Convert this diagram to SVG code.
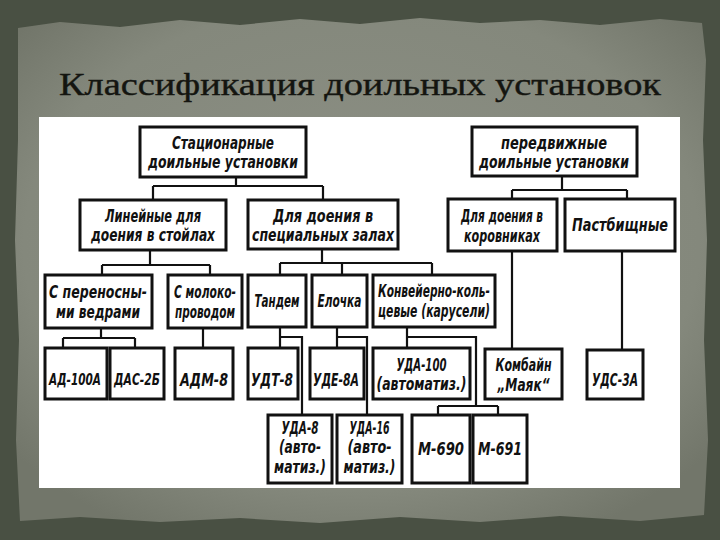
<svg xmlns="http://www.w3.org/2000/svg" width="720" height="540" viewBox="0 0 720 540">
<defs>
<radialGradient id="paper" cx="50%" cy="45%" r="65%">
<stop offset="0" stop-color="#8d9085"/>
<stop offset="0.75" stop-color="#84887c"/>
<stop offset="1" stop-color="#72766a"/>
</radialGradient>
<style>
.box{fill:#fff;stroke:#111;stroke-width:3}
.ln{fill:none;stroke:#111;stroke-width:2.2}
.t{font-family:"DejaVu Sans Condensed","DejaVu Sans","Liberation Sans",sans-serif;font-style:italic;font-weight:bold;font-size:17px;text-anchor:middle;fill:#111}
.s{font-size:15px}
.title{font-family:"Liberation Serif","DejaVu Serif",serif;font-size:32px;text-anchor:middle;fill:#141510;stroke:#141510;stroke-width:0.4}
</style>
</defs>
<rect width="720" height="540" fill="#495043"/>
<path d="M18,28 L60,22 L120,27 L180,20 L240,25 L300,19 L360,24 L420,18 L480,23 L540,20 L600,25 L660,19 L702,23 L706,60 L703,140 L707,240 L704,340 L708,440 L704,515 L640,521 L560,516 L480,522 L400,517 L320,523 L240,518 L160,522 L80,517 L20,521 L16,440 L19,340 L15,240 L18,140 Z" fill="url(#paper)"/>
<text class="title" x="360" y="95" textLength="602" lengthAdjust="spacingAndGlyphs">Классификация доильных установок</text>
<rect x="39" y="117" width="641" height="371" fill="#fff"/>

<g id="connectors" class="ln">
<path d="M236,177 V186 M153,186 H323 M153,186 V200 M323,186 V200"/>
<path d="M562,176 V190 M512,190 H627 M512,190 V199 M627,190 V199"/>
<path d="M150,250 V265 M102,265 H210 M102,265 V275 M210,265 V275"/>
<path d="M322,249 V263 M280,263 H432 M280,263 V275 M342,263 V275 M432,263 V275"/>
<path d="M512,251 V349"/>
<path d="M622,251 V350"/>
<path d="M101,328 V338 M63,338 H135 M63,338 V348 M135,338 V348"/>
<path d="M203,328 V348"/>
<path d="M280,327 V348 M280,337 H302 V415"/>
<path d="M337,327 V348 M337,337 H367 V415"/>
<path d="M407,327 V348 M407,337 H476 V406 M438,406 H498 M438,406 V415 M498,406 V415"/>
</g>

<g id="stat"><rect class="box" x="140" y="127" width="166" height="50"/>
<text class="t" x="223" y="149" textLength="102" lengthAdjust="spacingAndGlyphs">Стационарные</text>
<text class="t" x="223" y="168" textLength="150" lengthAdjust="spacingAndGlyphs">доильные установки</text></g>
<g id="pered"><rect class="box" x="472" y="127" width="165" height="49"/>
<text class="t" x="554" y="149" textLength="106" lengthAdjust="spacingAndGlyphs">передвижные</text>
<text class="t" x="554" y="168" textLength="150" lengthAdjust="spacingAndGlyphs">доильные установки</text></g>

<g id="lin"><rect class="box" x="80" y="200" width="146" height="50"/>
<text class="t" x="153" y="222" textLength="96" lengthAdjust="spacingAndGlyphs">Линейные для</text>
<text class="t" x="153" y="241" textLength="124" lengthAdjust="spacingAndGlyphs">доения в стойлах</text></g>
<g id="spec"><rect class="box" x="248" y="200" width="150" height="49"/>
<text class="t" x="323" y="222" textLength="100" lengthAdjust="spacingAndGlyphs">Для доения в</text>
<text class="t" x="323" y="241" textLength="142" lengthAdjust="spacingAndGlyphs">специальных залах</text></g>
<g id="korov"><rect class="box" x="448" y="199" width="109" height="52"/>
<text class="t" x="502" y="222" textLength="82" lengthAdjust="spacingAndGlyphs">Для доения в</text>
<text class="t" x="502" y="242" textLength="76" lengthAdjust="spacingAndGlyphs">коровниках</text></g>
<g id="past"><rect class="box" x="565" y="199" width="110" height="52"/>
<text class="t" x="620" y="231" textLength="96" lengthAdjust="spacingAndGlyphs">Пастбищные</text></g>

<g id="perenos"><rect class="box" x="45" y="275" width="107" height="53"/>
<text class="t" x="98" y="298" textLength="98" lengthAdjust="spacingAndGlyphs">С переносны-</text>
<text class="t" x="98" y="318" textLength="84" lengthAdjust="spacingAndGlyphs">ми ведрами</text></g>
<g id="moloko"><rect class="box" x="168" y="275" width="74" height="53"/>
<text class="t" x="205" y="298" textLength="62" lengthAdjust="spacingAndGlyphs">С молоко-</text>
<text class="t" x="205" y="318" textLength="60" lengthAdjust="spacingAndGlyphs">проводом</text></g>
<g id="tandem"><rect class="box" x="248" y="275" width="58" height="52"/>
<text class="t" x="277" y="307" textLength="45" lengthAdjust="spacingAndGlyphs">Тандем</text></g>
<g id="elochka"><rect class="box" x="312" y="275" width="55" height="52"/>
<text class="t" x="339.5" y="307" textLength="44" lengthAdjust="spacingAndGlyphs">Елочка</text></g>
<g id="konv"><rect class="box" x="373" y="275" width="122" height="52"/>
<text class="t" x="434" y="297" textLength="112" lengthAdjust="spacingAndGlyphs">Конвейерно-коль-</text>
<text class="t" x="434" y="317" textLength="112" lengthAdjust="spacingAndGlyphs">цевые (карусели)</text></g>

<g id="ad100"><rect class="box" x="45" y="348" width="62" height="51"/>
<text class="t s" x="75" y="385" textLength="52" lengthAdjust="spacingAndGlyphs">АД-100А</text></g>
<g id="das"><rect class="box" x="110" y="348" width="54" height="51"/>
<text class="t s" x="137" y="385" textLength="46" lengthAdjust="spacingAndGlyphs">ДАС-2Б</text></g>
<g id="adm"><rect class="box" x="175" y="348" width="58" height="51"/>
<text class="t" x="204" y="386" textLength="48" lengthAdjust="spacingAndGlyphs">АДМ-8</text></g>
<g id="udt"><rect class="box" x="248" y="348" width="50" height="51"/>
<text class="t" x="272" y="386" textLength="42" lengthAdjust="spacingAndGlyphs">УДТ-8</text></g>
<g id="ude"><rect class="box" x="310" y="348" width="54" height="51"/>
<text class="t" x="336" y="386" textLength="46" lengthAdjust="spacingAndGlyphs">УДЕ-8А</text></g>
<g id="uda100"><rect class="box" x="373" y="348" width="97" height="51"/>
<text class="t" x="421.5" y="371" textLength="50" lengthAdjust="spacingAndGlyphs">УДА-100</text>
<text class="t" x="421.5" y="390" textLength="90" lengthAdjust="spacingAndGlyphs">(автоматиз.)</text></g>
<g id="kombain"><rect class="box" x="485" y="349" width="77" height="50"/>
<text class="t" x="523.5" y="371" textLength="56" lengthAdjust="spacingAndGlyphs">Комбайн</text>
<text class="t" x="523.5" y="391" textLength="52" lengthAdjust="spacingAndGlyphs">„Маяк“</text></g>
<g id="uds"><rect class="box" x="587" y="350" width="56" height="49"/>
<text class="t" x="615" y="386" textLength="46" lengthAdjust="spacingAndGlyphs">УДС-3А</text></g>

<g id="uda8"><rect class="box" x="268" y="415" width="64" height="68"/>
<text class="t" x="300" y="434" textLength="37" lengthAdjust="spacingAndGlyphs">УДА-8</text>
<text class="t" x="300" y="453" textLength="42" lengthAdjust="spacingAndGlyphs">(авто-</text>
<text class="t" x="300" y="473" textLength="52" lengthAdjust="spacingAndGlyphs">матиз.)</text></g>
<g id="uda16"><rect class="box" x="337" y="415" width="65" height="68"/>
<text class="t" x="369.5" y="434" textLength="40" lengthAdjust="spacingAndGlyphs">УДА-16</text>
<text class="t" x="369.5" y="453" textLength="44" lengthAdjust="spacingAndGlyphs">(авто-</text>
<text class="t" x="369.5" y="473" textLength="52" lengthAdjust="spacingAndGlyphs">матиз.)</text></g>
<g id="m690"><rect class="box" x="412" y="415" width="58" height="68"/>
<text class="t" x="441" y="455" textLength="46" lengthAdjust="spacingAndGlyphs">М-690</text></g>
<g id="m691"><rect class="box" x="473" y="415" width="54" height="68"/>
<text class="t" x="500" y="455" textLength="44" lengthAdjust="spacingAndGlyphs">М-691</text></g>
</svg>
